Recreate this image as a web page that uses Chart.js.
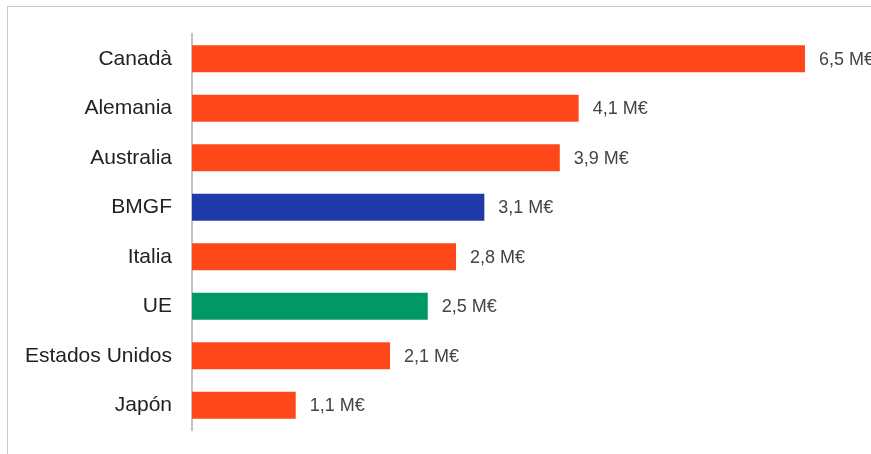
<!DOCTYPE html>
<html>
<head>
<meta charset="utf-8">
<script src="https://cdn.jsdelivr.net/npm/chart.js@4"></script>
<style>
  html, body { margin: 0; padding: 0; background: #fff; }
  #wrap { position: relative; width: 871px; height: 454px; }
  #frame {
    position: absolute; left: 7px; top: 6px; right: 0; bottom: 0;
    border-top: 1px solid #c8c8c8; border-left: 1px solid #c8c8c8;
    pointer-events: none;
  }
</style>
</head>
<body>
<div id="wrap">
  <canvas id="chart" width="871" height="454"></canvas>
  <div id="frame"></div>
</div>
<script>
// datos
const donantes = ['Canadà', 'Alemania', 'Australia', 'BMGF', 'Italia', 'UE', 'Estados Unidos', 'Japón'];
const importes = [6.5, 4.1, 3.9, 3.1, 2.8, 2.5, 2.1, 1.1];
const colores = ['#fe4819', '#fe4819', '#fe4819', '#203ba9', '#fe4819', '#009966', '#fe4819', '#fe4819'];

// etiqueta de valor al final de cada barra
const valorLabels = {
  id: 'valorLabels',
  afterDatasetsDraw(chart) {
    const ctx = chart.ctx;
    const meta = chart.getDatasetMeta(0);
    ctx.save();
    ctx.font = '18px "Liberation Sans", Arial, sans-serif';
    ctx.fillStyle = '#444';
    ctx.textAlign = 'left';
    ctx.textBaseline = 'middle';
    meta.data.forEach((bar, i) => {
      const txt = importes[i].toFixed(1).replace('.', ',') + ' M€';
      ctx.fillText(txt, bar.x + 14, bar.y + 1);
    });
    ctx.restore();
  }
};

const opciones = {
  responsive: false,
  animation: false,
  indexAxis: 'y',
  layout: { padding: { top: 34, bottom: 24, left: 0, right: 0 } },
  plugins: {
    legend: { display: false },
    tooltip: { enabled: false }
  },
  scales: {
    x: {
      display: false,
      min: 0,
      max: 7.2
    },
    y: {
      grid: { display: false, drawTicks: false },
      border: { display: true, color: '#c4c4c4', width: 2 },
      ticks: {
        color: '#222',
        padding: 20,
        font: { family: '"Liberation Sans", Arial, sans-serif', size: 21 }
      },
      afterFit(scale) {
        scale.width = 192;
        scale.paddingTop = 0;
        scale.paddingBottom = 0;
      }
    }
  }
};

new Chart(document.getElementById('chart'), {
  type: 'bar',
  data: {
    labels: donantes,
    datasets: [{
      data: importes,
      backgroundColor: colores,
      barPercentage: 0.55,
      categoryPercentage: 1
    }]
  },
  options: opciones,
  plugins: [valorLabels]
});
</script>
</body>
</html>
